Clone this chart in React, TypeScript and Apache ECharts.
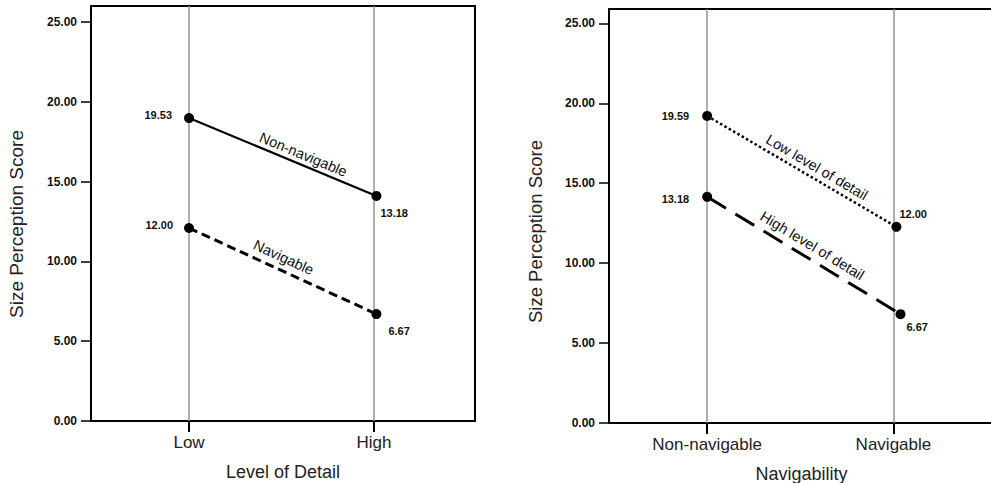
import { useEffect, useRef } from 'react';
import * as echarts from 'echarts';

// ---- data ----
const leftCategories = ['Low', 'High'];
const rightCategories = ['Non-navigable', 'Navigable'];
const leftSeriesNames = ['Non-navigable', 'Navigable'];
const rightSeriesNames = ['Low level of detail', 'High level of detail'];
const yTicks = [0, 5, 10, 15, 20, 25];

// x positions of markers (category index, as drawn)
const leftX = [0, 1.013];
const rightLowX = [0, 1.016];
const rightHighX = [0, 1.038];

// plotted marker heights (as drawn)
const leftNonNav = [18.98, 14.1];
const leftNav = [12.09, 6.7];
const rightLow = [19.21, 12.27];
const rightHigh = [14.15, 6.81];

// printed value labels
const leftNonNavLabels = ['19.53', '13.18'];
const leftNavLabels = ['12.00', '6.67'];
const rightLowLabels = ['19.59', '12.00'];
const rightHighLabels = ['13.18', '6.67'];

const FONT = '"Liberation Sans", Arial, sans-serif';

export default function App() {
  const ref = useRef<HTMLDivElement>(null);
  useEffect(() => {
    const chart = echarts.init(ref.current!, null, { renderer: 'svg' });

    const makeY = (gridIndex: number, max: number, nameSize: number, pad: number, gap: number) => ({
      type: 'value',
      gridIndex,
      min: 0,
      max,
      axisLine: { show: true, onZero: false, lineStyle: { color: '#000', width: 2 } },
      axisTick: { show: true, length: 10, lineStyle: { color: '#000', width: 1.5 }, customValues: yTicks },
      axisLabel: {
        customValues: yTicks,
        formatter: (v: number) => v.toFixed(2),
        fontFamily: FONT,
        fontWeight: 'bold',
        fontSize: 12,
        color: '#111',
        margin: 14,
      },
      splitLine: { show: false },
      name: 'Size Perception Score',
      nameLocation: 'middle',
      nameGap: gap,
      nameTextStyle: { fontFamily: FONT, fontSize: nameSize, color: '#222', padding: [0, pad, 0, 0] },
    });

    const makeX = (gridIndex: number, min: number, max: number, cats: string[], name: string) => ({
      type: 'value',
      gridIndex,
      min,
      max,
      axisLine: { show: true, onZero: false, lineStyle: { color: '#000', width: 2 } },
      axisTick: { show: true, length: 11, lineStyle: { color: '#000', width: 2 }, customValues: [0, 1] },
      axisLabel: {
        customValues: [0, 1],
        formatter: (v: number) => cats[Math.round(v)],
        fontFamily: FONT,
        fontSize: 17,
        color: '#222',
        margin: 13,
      },
      splitLine: { show: false },
      name,
      nameLocation: 'middle',
      nameGap: 42,
      nameTextStyle: { fontFamily: FONT, fontSize: 18, color: '#222' },
    });

    type Place = { align: string; offset: number[] };
    const makeSeries = (
      name: string,
      g: number,
      xs: number[],
      ys: number[],
      labels: string[],
      places: Place[],
      lineType: any,
      width: number,
      withGuides: boolean,
    ) => ({
      type: 'line',
      name,
      xAxisIndex: g,
      yAxisIndex: g,
      symbol: 'circle',
      symbolSize: 10,
      itemStyle: { color: '#000' },
      lineStyle: { color: '#000', width, type: lineType },
      data: ys.map((y, i) => ({
        value: [xs[i], y],
        label: {
          show: true,
          position: 'inside',
          align: places[i].align,
          verticalAlign: 'middle',
          offset: places[i].offset,
          formatter: () => labels[i],
          fontFamily: FONT,
          fontWeight: 'bold',
          fontSize: 11,
          color: '#111',
        },
      })),
      z: 3,
      markLine: withGuides
        ? {
            silent: true,
            symbol: 'none',
            label: { show: false },
            lineStyle: { color: '#939393', width: 1.5, type: 'solid' },
            data: [{ xAxis: 0 }, { xAxis: 1 }],
            z: 1,
          }
        : undefined,
    });

    const option: any = {
      animation: false,
      backgroundColor: '#fff',
      grid: [
        { left: 91, top: 6, width: 384, height: 415, show: true, borderColor: '#000', borderWidth: 2, outerBoundsMode: 'none' },
        { left: 609, top: 9, width: 385, height: 414, show: true, borderColor: '#000', borderWidth: 2, outerBoundsMode: 'none' },
      ],
      xAxis: [
        makeX(0, -0.53, 1.546, leftCategories, 'Level of Detail'),
        makeX(1, -0.527, 1.54, rightCategories, 'Navigability'),
      ],
      yAxis: [makeY(0, 26, 19, 21, 65), makeY(1, 25.9, 18.5, 31, 64)],
      series: [
        makeSeries(leftSeriesNames[0], 0, leftX, leftNonNav, leftNonNavLabels,
          [{ align: 'right', offset: [-17, -3] }, { align: 'left', offset: [4, 17] }], 'solid', 2.2, true),
        makeSeries(leftSeriesNames[1], 0, leftX, leftNav, leftNavLabels,
          [{ align: 'right', offset: [-16, -3] }, { align: 'left', offset: [12, 17] }], [9, 5], 3, false),
        makeSeries(rightSeriesNames[0], 1, rightLowX, rightLow, rightLowLabels,
          [{ align: 'right', offset: [-18, 0] }, { align: 'left', offset: [3, -13] }], [2.5, 2.5], 2.5, true),
        makeSeries(rightSeriesNames[1], 1, rightHighX, rightHigh, rightHighLabels,
          [{ align: 'right', offset: [-18, 2] }, { align: 'left', offset: [6, 13] }], [22, 11], 3, false),
      ],
    };
    chart.setOption(option);

    const annotations = [
      { text: leftSeriesNames[0], g: 0, xs: leftX, ys: leftNonNav, t: 0.61, dy: -11 },
      { text: leftSeriesNames[1], g: 0, xs: leftX, ys: leftNav, t: 0.505, dy: -14 },
      { text: rightSeriesNames[0], g: 1, xs: rightLowX, ys: rightLow, t: 0.58, dy: -13 },
      { text: rightSeriesNames[1], g: 1, xs: rightHighX, ys: rightHigh, t: 0.544, dy: -15 },
    ];
    const graphic = annotations.map((a) => {
      const p0 = chart.convertToPixel({ xAxisIndex: a.g, yAxisIndex: a.g } as any, [a.xs[0], a.ys[0]]) as number[];
      const p1 = chart.convertToPixel({ xAxisIndex: a.g, yAxisIndex: a.g } as any, [a.xs[1], a.ys[1]]) as number[];
      const x = p0[0] + a.t * (p1[0] - p0[0]);
      const y = p0[1] + a.t * (p1[1] - p0[1]) + a.dy;
      const rot = -Math.atan2(p1[1] - p0[1], p1[0] - p0[0]);
      return {
        type: 'text',
        x,
        y,
        rotation: rot,
        silent: true,
        z: 10,
        style: {
          text: a.text,
          font: `14.5px ${FONT}`,
          fill: '#111',
          align: 'center',
          verticalAlign: 'middle',
        },
      };
    });
    chart.setOption({ graphic });

    return () => chart.dispose();
  }, []);
  return (
    <div
      ref={ref}
      style={{ position: 'fixed', left: 0, top: 0, width: 991, height: 483, background: '#fff' }}
    />
  );
}
